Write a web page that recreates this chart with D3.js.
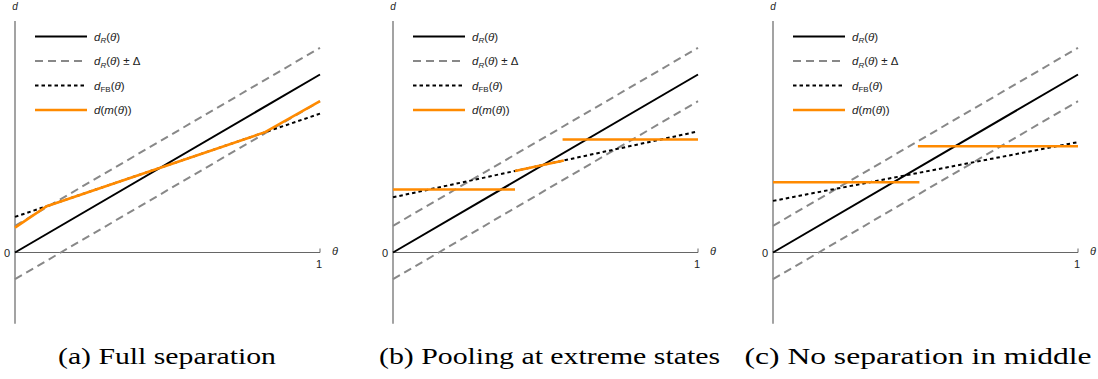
<!DOCTYPE html>
<html>
<head>
<meta charset="utf-8">
<script src="https://cdn.jsdelivr.net/npm/d3@7"></script>
<style>
  body { margin: 0; background: #fff; }
  svg text { font-family: "Liberation Sans", Arial, sans-serif; }
</style>
</head>
<body>
<div id="chart"></div>
<script>
// values (theta in [0,1], d in units of d_R(1))
const captions = ['(a) Full separation', '(b) Pooling at extreme states', '(c) No separation in middle'];
const delta = 0.15;
const thetaRange = [0, 1];
const fbLines = [
  [[0, 0.20], [1, 0.78]],
  [[0, 0.31], [1, 0.68]],
  [[0, 0.29], [1, 0.62]]
];
// orange d(m(theta)) pieces per panel
const messageA = [
  [[0, 0.14], [0.104, 0.26], [0.82, 0.676], [1, 0.85]]
];
const messageB = [
  [[0, 0.354], [0.40, 0.354]],
  [[0.40, 0.458], [0.56, 0.517]],
  [[0.556, 0.635], [1, 0.635]]
];
const messageC = [
  [[0, 0.395], [0.48, 0.395]],
  [[0.475, 0.597], [1, 0.597]]
];
const messages = [messageA, messageB, messageC];
const legendItems = ['dR', 'dRpm', 'dFB', 'dm'];

const W = 1098, H = 379;
const panelLeft = [15, 393, 773];
const panelW = 305;
const axisY = 252.5;
const unitPx = 178;
const captionX = [167, 549.5, 918];
const captionW = [218, 341, 347];

const styles = {
  dR:   { stroke: '#000', width: 2, dash: null },
  dRpm: { stroke: '#888', width: 2, dash: '8,5' },
  dFB:  { stroke: '#000', width: 2, dash: '3.5,3' },
  dm:   { stroke: '#ff8a00', width: 2.6, dash: null }
};

const svg = d3.select('#chart').append('svg')
  .attr('width', W)
  .attr('height', H);

const line = d3.line();

panelLeft.forEach((left, i) => {
  const x = d3.scaleLinear().domain([0, 1]).range([left, left + panelW]);
  const y = d3.scaleLinear().domain([0, 1]).range([axisY, axisY - unitPx]);
  const g = svg.append('g');

  // axes
  g.append('line')
    .attr('x1', x(0)).attr('x2', x(0))
    .attr('y1', y(1.30)).attr('y2', y(-0.40))
    .attr('stroke', '#666').attr('stroke-width', 1.2);
  g.append('line')
    .attr('x1', x(0)).attr('x2', x(1))
    .attr('y1', y(0)).attr('y2', y(0))
    .attr('stroke', '#666').attr('stroke-width', 1.2);
  g.append('line')
    .attr('x1', x(1)).attr('x2', x(1))
    .attr('y1', y(0)).attr('y2', y(0) - 4)
    .attr('stroke', '#666').attr('stroke-width', 1);

  g.append('text').attr('x', x(0) - 8).attr('y', y(0) + 4)
    .attr('text-anchor', 'middle').attr('font-size', 11).attr('fill', '#222').text('0');
  g.append('text').attr('x', x(1) - 1).attr('y', y(0) + 15)
    .attr('text-anchor', 'middle').attr('font-size', 11).attr('fill', '#222').text('1');
  g.append('text').attr('x', x(1) + 15).attr('y', y(0) + 2)
    .attr('text-anchor', 'middle').attr('font-size', 11).attr('font-style', 'italic')
    .attr('fill', '#222').text('θ');
  g.append('text').attr('x', x(0)).attr('y', 10)
    .attr('text-anchor', 'middle').attr('font-size', 10).attr('font-style', 'italic')
    .attr('fill', '#222').text('d');

  const draw = (pts, s) => {
    g.append('path')
      .attr('d', line(pts.map(p => [x(p[0]), y(p[1])])))
      .attr('fill', 'none')
      .attr('stroke', s.stroke)
      .attr('stroke-width', s.width)
      .attr('stroke-dasharray', s.dash);
  };

  // d_R(theta) +- delta
  draw(thetaRange.map(t => [t, t + delta]), styles.dRpm);
  draw(thetaRange.map(t => [t, t - delta]), styles.dRpm);
  // d_R(theta)
  draw(thetaRange.map(t => [t, t]), styles.dR);
  // d_FB
  draw(fbLines[i], styles.dFB);
  // d(m(theta))
  messages[i].forEach(seg => draw(seg, styles.dm));

  // legend
  const lg = g.append('g').attr('transform', `translate(${left + 20},36.5)`);
  legendItems.forEach((k, j) => {
    const s = styles[k];
    const row = lg.append('g').attr('transform', `translate(0,${j * 24.5})`);
    row.append('line')
      .attr('x1', 0).attr('x2', 52).attr('y1', 0).attr('y2', 0)
      .attr('stroke', s.stroke).attr('stroke-width', s.width)
      .attr('stroke-dasharray', s.dash);
    const t = row.append('text').attr('x', 59).attr('y', 4)
      .attr('font-size', 11.5).attr('fill', '#222');
    if (k === 'dR' || k === 'dRpm') {
      t.append('tspan').attr('font-style', 'italic').text('d');
      t.append('tspan').attr('font-style', 'italic').attr('font-size', 8).attr('dy', 2.5).text('R');
      t.append('tspan').attr('dy', -2.5).text('(');
      t.append('tspan').attr('font-style', 'italic').text('θ');
      t.append('tspan').text(k === 'dR' ? ')' : ') ± Δ');
    } else if (k === 'dFB') {
      t.append('tspan').attr('font-style', 'italic').text('d');
      t.append('tspan').attr('font-size', 8).attr('dy', 2.5).text('FB');
      t.append('tspan').attr('dy', -2.5).text('(');
      t.append('tspan').attr('font-style', 'italic').text('θ');
      t.append('tspan').text(')');
    } else {
      t.append('tspan').attr('font-style', 'italic').text('d');
      t.append('tspan').text('(');
      t.append('tspan').attr('font-style', 'italic').text('m');
      t.append('tspan').text('(');
      t.append('tspan').attr('font-style', 'italic').text('θ');
      t.append('tspan').text('))');
    }
  });

  // caption
  svg.append('text')
    .attr('x', captionX[i])
    .attr('y', 364)
    .attr('text-anchor', 'middle')
    .attr('textLength', captionW[i])
    .attr('lengthAdjust', 'spacingAndGlyphs')
    .style('font-family', '"Liberation Serif", "Times New Roman", serif')
    .attr('font-size', 24)
    .attr('fill', '#000')
    .text(captions[i]);
});
</script>
</body>
</html>
